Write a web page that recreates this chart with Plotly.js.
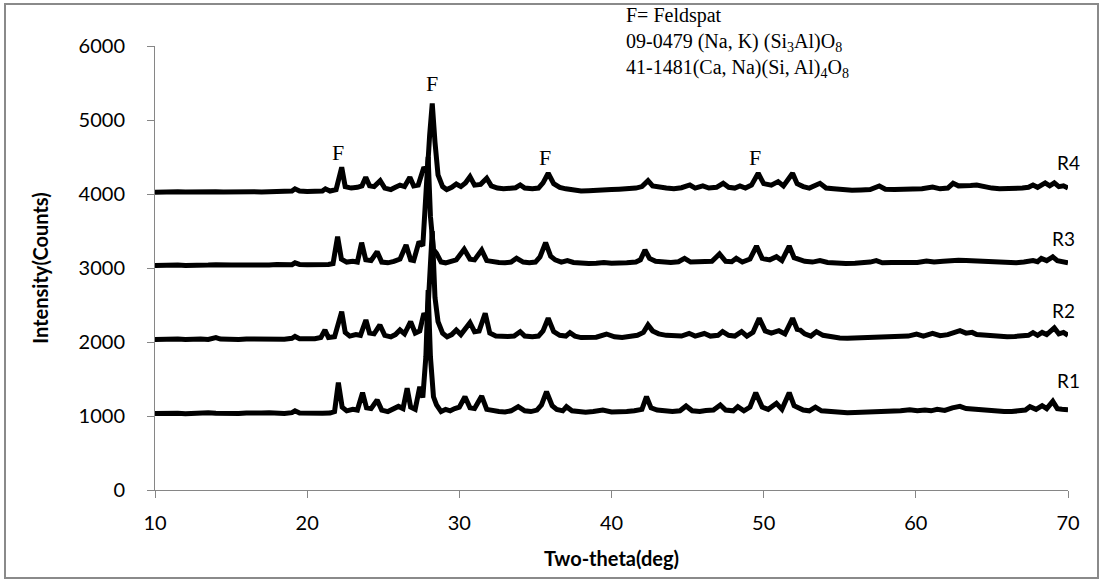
<!DOCTYPE html>
<html>
<head>
<meta charset="utf-8">
<script src="https://cdn.plot.ly/plotly-3.0.1.min.js"></script>
<style>
  html, body { margin: 0; padding: 0; background: #ffffff; }
  #wrap { position: relative; width: 1102px; height: 581px; }
  #chart { position: absolute; left: 0; top: 0; width: 1102px; height: 581px; }
  #frame { position: absolute; left: 4px; top: 3px; width: 1091px; height: 572px; border: 2px solid #8a8a8a; pointer-events: none; }
</style>
</head>
<body>
<div id="wrap">
  <div id="chart"></div>
  <div id="frame"></div>
</div>
<script>
// ---- Data ----
const r1_2theta = [10,10.5,11,11.5,12,12.5,13,13.5,14,14.5,15,15.5,16,16.5,17,17.5,18,18.5,19,19.2,19.5,20,20.5,21,21.5,21.8,22.05,22.3,22.6,23.0,23.3,23.64,23.9,24.2,24.6,24.9,25.3,25.7,26.0,26.3,26.57,26.8,27.1,27.4,27.6,27.8,27.95,28.1,28.3,28.5,28.8,29.1,29.4,29.7,30.0,30.37,30.7,31.0,31.47,31.8,32.2,32.6,33.0,33.4,33.87,34.3,34.7,35.1,35.4,35.73,36.1,36.4,36.8,37.04,37.4,37.8,38.3,38.8,39.43,40.0,40.5,41.0,41.5,42.0,42.3,42.6,43.0,43.5,44.0,44.5,44.9,45.3,45.8,46.2,46.7,47.15,47.5,48.0,48.3,48.7,49.1,49.48,49.9,50.3,50.84,51.2,51.68,52.0,52.27,52.6,53.0,53.4,53.8,54.3,55.0,55.5,56.0,56.5,57.0,57.5,58.0,58.5,59.0,59.6,60.1,60.6,61.0,61.4,61.9,62.4,62.9,63.3,63.8,64.3,64.8,65.3,65.8,66.3,66.8,67.2,67.5,67.9,68.3,68.6,69.0,69.3,69.6,70.0];
const r1_counts = [1035,1040,1030,1038,1032,1040,1035,1045,1038,1032,1040,1035,1042,1035,1040,1045,1038,1035,1045,1070,1040,1035,1040,1038,1040,1060,1450,1120,1070,1090,1080,1315,1110,1100,1216,1080,1060,1090,1130,1100,1374,1120,1090,1397,1250,1800,2700,1800,1260,1150,1060,1090,1070,1100,1120,1261,1110,1100,1270,1090,1070,1060,1055,1070,1126,1070,1060,1080,1150,1328,1140,1090,1070,1126,1070,1060,1050,1060,1080,1055,1050,1060,1070,1090,1261,1110,1080,1070,1060,1070,1135,1070,1060,1075,1080,1149,1080,1070,1126,1070,1120,1315,1120,1090,1171,1090,1315,1140,1120,1080,1070,1120,1070,1060,1045,1045,1048,1050,1060,1055,1062,1060,1070,1085,1070,1080,1070,1090,1075,1110,1130,1100,1090,1080,1070,1065,1060,1060,1070,1080,1126,1090,1140,1100,1198,1100,1090,1085];

const r2_2theta = [10,10.5,11,11.5,12,12.5,13,13.5,14,14.3,14.5,15,15.5,16,16.5,17,17.5,18,18.5,19,19.2,19.5,20,20.5,20.9,21.17,21.4,21.8,22.27,22.5,22.8,23.2,23.5,23.86,24.1,24.4,24.78,25.1,25.5,25.8,26.1,26.4,26.8,27.1,27.4,27.67,27.9,28.05,28.22,28.4,28.6,28.9,29.2,29.5,29.8,30.1,30.4,30.7,31.0,31.3,31.7,32.0,32.4,32.8,33.2,33.6,34.0,34.3,34.8,35.2,35.5,35.84,36.2,36.6,37.0,37.27,37.6,38.0,38.5,39.0,39.67,40.2,40.7,41.2,41.7,42.1,42.4,42.7,43.1,43.6,44.1,44.6,45.1,45.5,46.1,46.5,47.0,47.3,47.7,48.1,48.55,48.9,49.3,49.71,50.1,50.5,51.0,51.4,51.9,52.2,52.4,52.7,53.1,53.47,53.9,54.4,55.0,55.5,56.0,56.5,57.0,57.5,58.0,58.5,59.0,59.5,60.05,60.5,61.1,61.6,62.1,62.5,62.9,63.3,63.7,64.0,64.5,65.0,65.5,66.0,66.5,67.0,67.4,67.7,68.0,68.3,68.6,69.1,69.4,69.7,70.0];
const r2_counts = [2035,2040,2030,2040,2035,2045,2040,2035,2060,2040,2038,2040,2035,2042,2038,2040,2045,2040,2038,2050,2075,2045,2040,2045,2060,2162,2060,2070,2410,2130,2080,2100,2090,2297,2120,2110,2230,2090,2070,2100,2162,2110,2275,2120,2150,2388,2300,2900,3500,2600,2275,2120,2070,2100,2162,2100,2180,2261,2140,2150,2388,2120,2080,2070,2075,2080,2140,2080,2070,2080,2150,2320,2140,2090,2080,2126,2080,2060,2055,2065,2108,2070,2060,2070,2090,2130,2230,2150,2110,2090,2080,2080,2117,2080,2115,2080,2090,2140,2090,2080,2140,2080,2130,2320,2150,2120,2153,2110,2320,2170,2162,2110,2080,2140,2090,2070,2055,2050,2052,2060,2055,2065,2070,2068,2075,2080,2108,2080,2117,2085,2100,2120,2153,2120,2130,2100,2090,2080,2075,2070,2075,2080,2090,2126,2090,2130,2100,2190,2110,2130,2090];

const r3_2theta = [10,10.5,11,11.5,12,12.5,13,13.5,14,14.5,15,15.5,16,16.5,17,17.5,18,18.5,19,19.2,19.5,20,20.5,21,21.4,21.7,22.0,22.25,22.6,23.0,23.3,23.58,23.85,24.2,24.6,24.9,25.3,25.7,26.1,26.5,26.8,27.0,27.35,27.6,27.8,27.95,28.1,28.3,28.5,28.8,29.1,29.5,29.8,30.32,30.7,31.0,31.47,31.8,32.2,32.6,33.0,33.4,33.76,34.2,34.6,35.0,35.3,35.67,36.0,36.3,36.7,37.1,37.5,38.0,38.5,39.0,39.5,40.0,40.5,41.0,41.6,41.9,42.2,42.5,42.9,43.4,43.9,44.4,44.8,45.2,45.7,46.1,46.6,47.1,47.5,47.9,48.2,48.6,49.1,49.53,49.9,50.4,50.84,51.2,51.68,52.0,52.3,52.7,53.2,53.7,54.2,54.8,55.4,56.0,56.6,57.0,57.4,57.8,58.4,59.0,59.6,60.1,60.7,61.2,61.8,62.35,62.8,63.3,63.8,64.3,64.9,65.5,66.0,66.6,67.1,67.7,68.0,68.25,68.6,69.0,69.3,69.6,70.0];
const r3_counts = [3035,3040,3032,3040,3035,3042,3038,3040,3045,3038,3040,3042,3038,3045,3040,3042,3048,3040,3045,3070,3048,3045,3042,3040,3048,3060,3423,3120,3080,3090,3080,3342,3110,3100,3220,3080,3070,3090,3120,3311,3110,3100,3356,3300,3900,4500,3700,3250,3198,3080,3070,3100,3110,3252,3120,3110,3243,3100,3080,3075,3070,3080,3131,3080,3070,3080,3150,3342,3160,3110,3080,3100,3075,3065,3060,3065,3075,3065,3060,3070,3080,3110,3243,3130,3090,3080,3075,3085,3131,3080,3085,3095,3090,3189,3090,3085,3131,3080,3120,3297,3130,3110,3153,3100,3297,3140,3120,3090,3080,3100,3075,3065,3062,3065,3070,3080,3100,3070,3075,3072,3085,3075,3095,3080,3090,3100,3105,3100,3095,3085,3075,3070,3068,3072,3080,3100,3085,3130,3100,3150,3100,3090,3070];

const r4_2theta = [10,10.5,11,11.5,12,12.5,13,13.5,14,14.5,15,15.5,16,16.5,17,17.5,18,18.5,19,19.2,19.5,20,20.5,21,21.2,21.5,21.9,22.27,22.5,22.9,23.3,23.6,23.85,24.1,24.4,24.8,25.1,25.5,25.8,26.1,26.4,26.75,27.0,27.3,27.67,27.9,28.05,28.22,28.4,28.6,28.9,29.17,29.5,29.8,30.1,30.4,30.7,31.0,31.4,31.8,32.1,32.5,32.9,33.3,33.7,34.0,34.3,34.8,35.2,35.5,35.84,36.2,36.6,37.0,37.4,38.0,38.5,39.0,39.5,40.0,40.5,41.0,41.6,42.0,42.4,42.7,43.1,43.6,44.1,44.6,45.15,45.5,46.0,46.4,46.9,47.34,47.7,48.1,48.44,48.8,49.2,49.64,50.0,50.5,50.95,51.3,51.9,52.2,52.6,53.0,53.7,54.1,54.6,55.2,55.8,56.4,57.0,57.6,58.0,58.6,59.2,59.8,60.4,61.1,61.6,62.1,62.45,62.8,63.2,63.6,64.0,64.5,65.0,65.5,66.0,66.5,67.0,67.4,67.7,68.0,68.5,68.8,69.1,69.4,69.7,70.0];
const r4_counts = [4025,4030,4022,4030,4028,4032,4030,4035,4030,4028,4032,4030,4035,4030,4028,4032,4030,4035,4040,4070,4040,4035,4032,4040,4070,4040,4060,4361,4100,4080,4090,4110,4225,4110,4100,4180,4080,4060,4090,4120,4100,4225,4110,4120,4360,4300,4800,5225,4700,4257,4100,4060,4090,4135,4100,4150,4234,4120,4130,4212,4110,4080,4070,4075,4085,4122,4080,4070,4080,4150,4280,4140,4090,4070,4060,4040,4045,4055,4050,4060,4065,4070,4080,4100,4180,4110,4090,4080,4070,4085,4122,4080,4110,4080,4090,4144,4090,4080,4108,4080,4120,4280,4140,4120,4167,4110,4280,4140,4100,4080,4144,4080,4070,4055,4050,4055,4060,4108,4065,4060,4065,4070,4072,4095,4070,4080,4144,4110,4120,4115,4120,4095,4080,4070,4070,4075,4080,4090,4120,4090,4150,4110,4150,4100,4110,4080];

const seriesNames = ["R1", "R2", "R3", "R4"];
const xTickVals = [10, 20, 30, 40, 50, 60, 70];
const yTickVals = [0, 1000, 2000, 3000, 4000, 5000, 6000];

// peak marker labels (F = Feldspat) and series labels
const peakLabel2theta = [22.0, 28.2, 35.6, 49.4];
const peakLabelCounts = [4560, 5500, 4500, 4500];
const seriesLabel2theta = [70.0, 69.7, 69.7, 70.0];
const seriesLabelCounts = [1475, 2430, 3400, 4420];

const legendLines = [
  "F= Feldspat",
  "09-0479 (Na, K) (Si<sub>3</sub>Al)O<sub>8</sub>",
  "41-1481(Ca, Na)(Si, Al)<sub>4</sub>O<sub>8</sub>"
];

// ---- Build ----
const xs = [r1_2theta, r2_2theta, r3_2theta, r4_2theta];
const ys = [r1_counts, r2_counts, r3_counts, r4_counts];
const traces = xs.map((x, i) => ({
  type: "scatter", mode: "lines", name: seriesNames[i],
  x: x, y: ys[i],
  line: { color: "#000000", width: 5 },
  hoverinfo: "skip"
}));

const sansFont = "Lato, 'Open Sans', sans-serif";
const serifFont = "'Liberation Serif', 'DejaVu Serif', serif";

const annotations = [];
peakLabel2theta.forEach((x, i) => annotations.push({
  x: x, y: peakLabelCounts[i], xref: "x", yref: "y", text: "F", showarrow: false,
  xanchor: "center", yanchor: "middle",
  font: { family: serifFont, size: 22, color: "#000" }
}));
seriesLabel2theta.forEach((x, i) => annotations.push({
  x: x, y: seriesLabelCounts[i], xref: "x", yref: "y", text: seriesNames[i], showarrow: false,
  xanchor: "center", yanchor: "middle",
  font: { family: sansFont, size: 19, color: "#000" }
}));
const legendTop = [1.068, 1.008, 0.949];
legendLines.forEach((t, i) => annotations.push({
  x: 0.514, y: legendTop[i], xref: "paper", yref: "paper", text: t, showarrow: false,
  xanchor: "left", yanchor: "middle", align: "left",
  font: { family: serifFont, size: 20, color: "#000" }
}));

const axisCommon = {
  showgrid: false, zeroline: false, showline: true,
  linecolor: "#868686", linewidth: 1,
  ticks: "outside", ticklen: 7, tickcolor: "#868686", tickwidth: 1,
  tickfont: { family: sansFont, size: 20, color: "#000" }
};

const layout = {
  width: 1102, height: 581,
  margin: { l: 155, r: 34, t: 46, b: 91 },
  paper_bgcolor: "#ffffff", plot_bgcolor: "#ffffff",
  showlegend: false,
  xaxis: Object.assign({}, axisCommon, {
    range: [10, 70], tickvals: xTickVals, ticklabelstandoff: 8,
    title: { text: "<b>Two-theta(deg)</b>", font: { family: sansFont, size: 20, color: "#000" }, standoff: 18 }
  }),
  yaxis: Object.assign({}, axisCommon, {
    range: [0, 6000], tickvals: yTickVals, ticklabelstandoff: 18,
    title: { text: "<b>Intensity(Counts)</b>", font: { family: sansFont, size: 20, color: "#000" }, standoff: 24 }
  }),
  annotations: annotations
};

Plotly.newPlot("chart", traces, layout, { staticPlot: true, displayModeBar: false });
</script>
</body>
</html>
